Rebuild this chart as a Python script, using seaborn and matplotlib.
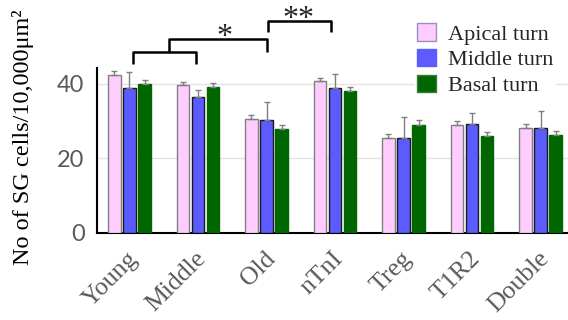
import matplotlib
matplotlib.use("Agg")
import matplotlib.pyplot as plt
import matplotlib.transforms as mtransforms
import seaborn as sns
import pandas as pd
from matplotlib.patches import Patch

groups = ["Young", "Middle", "Old", "nTnI", "Treg", "T1R2", "Double"]
turns = ["Apical turn", "Middle turn", "Basal turn"]
apical = [42.5, 39.6, 30.6, 40.8, 25.5, 29.0, 28.1]
middle = [38.8, 36.6, 30.3, 39.0, 25.5, 29.1, 28.1]
basal = [40.0, 39.2, 28.0, 38.2, 29.0, 26.1, 26.3]
apical_err = [1.1, 1.0, 1.1, 0.9, 1.0, 1.0, 1.0]
middle_err = [4.5, 1.8, 4.9, 3.8, 5.5, 3.1, 4.5]
basal_err = [1.1, 1.1, 1.0, 1.0, 1.2, 1.0, 1.1]
yticks = [0, 20, 40]
ylabel = "No of SG cells/10,000\u03bcm\u00b2"

colors = {"Apical turn": "#FFCCFF", "Middle turn": "#5B5BFF", "Basal turn": "#006600"}
bar_edges = {"Apical turn": "#808080", "Middle turn": "#1a1a1a", "Basal turn": "#006600"}
leg_edges = {"Apical turn": "#9a90b8", "Middle turn": "#5B5BFF", "Basal turn": "#3d7a3d"}

vals = [apical, middle, basal]
errs = [apical_err, middle_err, basal_err]
rows = []
for t, v in zip(turns, vals):
    for g, x in zip(groups, v):
        rows.append({"group": g, "turn": t, "value": x})
df = pd.DataFrame(rows)

sns.set_style("white")
serif = ["Liberation Serif", "DejaVu Serif"]

fig = plt.figure(figsize=(5.68, 3.2), dpi=100)
ax = fig.add_axes([97 / 568, 1 - 232.5 / 320, 1 - 97 / 568, (232.5 - 68) / 320])

sns.barplot(data=df, x="group", y="value", hue="turn", order=groups, hue_order=turns,
            palette=colors, saturation=1, width=0.66, gap=0.18, errorbar=None,
            legend=False, ax=ax, zorder=3)

for cont, t, e in zip(ax.containers, turns, errs):
    xs, ys = [], []
    for p in cont.patches:
        p.set_edgecolor(bar_edges[t])
        p.set_linewidth(1.0)
        xs.append(p.get_x() + p.get_width() / 2)
        ys.append(p.get_height())
    ax.errorbar(xs, ys, yerr=[[0] * len(e), e], fmt="none", ecolor="#7f7f7f",
                elinewidth=1.0, capsize=2.5, capthick=1.0, zorder=4)

ax.set_xlim(-0.474, 6.40)
ax.set_ylim(0, 44.3)
ax.set_yticks(yticks)
ax.set_xlabel("")
ax.set_ylabel(ylabel, fontsize=17.5, family=serif, color="black")
ax.yaxis.set_label_coords(-0.133, 0.58)
ax.yaxis.grid(True, color="#e3e3e3", linewidth=1.0, zorder=0)
ax.set_axisbelow(True)
for s in ["top", "right"]:
    ax.spines[s].set_visible(False)
for s in ["left", "bottom"]:
    ax.spines[s].set_color("black")
    ax.spines[s].set_linewidth(1.5)
ax.tick_params(axis="both", length=0)
ax.tick_params(axis="y", pad=9, labelsize=17, labelcolor="#595959")
for lab in ax.get_yticklabels():
    lab.set_family(["Lato", "DejaVu Sans"])
ax.tick_params(axis="x", pad=10, labelsize=18.5, labelcolor="#595959")
offset = mtransforms.ScaledTranslation(5 / 100, -9 / 100, fig.dpi_scale_trans)
for lab in ax.get_xticklabels():
    lab.set_family(serif)
    lab.set_rotation(45)
    lab.set_ha("right")
    lab.set_va("center")
    lab.set_rotation_mode("anchor")
    lab.set_transform(lab.get_transform() + offset)

# significance brackets
kw = dict(color="black", lw=1.8, clip_on=False, zorder=5, solid_capstyle="butt")
ax.plot([0.047, 0.047, 0.971, 0.971], [45.3, 48.55, 48.55, 45.3], **kw)
ax.plot([0.577, 0.577, 2.007, 2.007], [48.55, 52.05, 52.05, 48.7], **kw)
ax.plot([2.017, 2.017, 2.937, 2.937], [53.9, 57.05, 57.05, 53.9], **kw)
ax.text(1.38, 52.4, "*", ha="center", va="center", fontsize=23, family=serif)
ax.text(2.46, 57.4, "**", ha="center", va="center", fontsize=23, family=serif)

handles = [Patch(facecolor=colors[t], edgecolor=leg_edges[t], linewidth=1.0, label=t) for t in turns]
leg = fig.legend(handles=handles, loc="upper left", bbox_to_anchor=(404 / 568, 1 - 10 / 320),
                 frameon=True, facecolor="white", edgecolor="white", framealpha=1,
                 borderpad=0.1, handlelength=0.82, handleheight=0.82, handletextpad=0.55,
                 labelspacing=0.2, prop={"family": serif, "size": 16})

fig.savefig("out.png", dpi=100)
